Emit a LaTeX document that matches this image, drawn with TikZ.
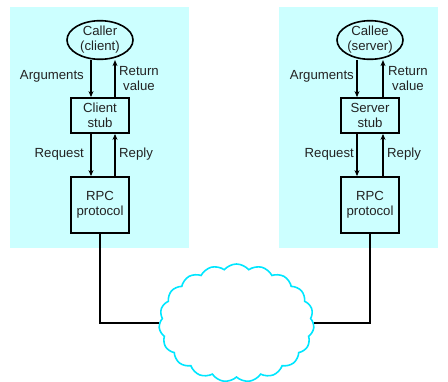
\documentclass[tikz,border=0pt]{standalone}
\usepackage{fontspec}
\setmainfont{Liberation Sans}
\usetikzlibrary{shapes.geometric,shapes.symbols,arrows.meta}
\definecolor{panelcyan}{RGB}{204,255,255}
\definecolor{netcyan}{RGB}{0,230,255}
\definecolor{inkgray}{RGB}{35,35,35}
\tikzset{
  panel/.style={fill=panelcyan, draw=none},
  procnode/.style={ellipse, draw=black, line width=1.6pt, minimum width=66pt, minimum height=35pt, inner sep=0pt, align=center},
  stubbox/.style={rectangle, draw=black, line width=1.8pt, minimum width=58pt, minimum height=35pt, inner sep=0pt, align=center},
  rpcbox/.style={rectangle, draw=black, line width=1.8pt, minimum width=58pt, minimum height=56pt, inner sep=0pt, align=center},
  flow/.style={draw=black, line width=1.6pt, -{Stealth[length=6pt,width=5pt]}},
  wire/.style={draw=black, line width=1.8pt},
  lbl/.style={text=inkgray, inner sep=0pt, align=center},
  net/.style={cloud, cloud puffs=19, cloud puff arc=100, cloud ignores aspect, draw=netcyan, line width=1.6pt, minimum width=155pt, minimum height=118pt, inner sep=0pt}
}
\begin{document}
\begin{tikzpicture}[x=1pt, y=-1pt, font=\fontsize{13.2}{15}\selectfont, text=inkgray]
\useasboundingbox (0,0) rectangle (448,381);

% machine backgrounds
\fill[panel] (10,7) rectangle (189,248);
\fill[panel] (279,7) rectangle (438,248);

% client side
\node[procnode] (caller) at (100,40) {Caller\\(client)};
\node[stubbox] (cstub) at (100,115.5) {Client\\stub};
\node[rpcbox] (crpc) at (100,205) {RPC\\protocol};

\draw[flow] ([xshift=-9pt]caller.south) -- ([xshift=-9pt]cstub.north);
\draw[flow] ([xshift=15pt]cstub.north) -- ([xshift=15pt]caller.south);
\draw[flow] ([xshift=-9pt]cstub.south) -- ([xshift=-9pt]crpc.north);
\draw[flow] ([xshift=15pt]crpc.north) -- ([xshift=15pt]cstub.south);

\node[lbl, anchor=east] (cargs) at (84,76) {Arguments};
\node[lbl] (cret) at (139,78.5) {Return\\value};
\node[lbl, anchor=east] (creq) at (84,154) {Request};
\node[lbl, anchor=west] (crep) at (119,154) {Reply};

% server side
\node[procnode] (callee) at (370,40) {Callee\\(server)};
\node[stubbox] (sstub) at (370,115.5) {Server\\stub};
\node[rpcbox] (srpc) at (370,205) {RPC\\protocol};

\draw[flow] ([xshift=-13pt]callee.south) -- ([xshift=-13pt]sstub.north);
\draw[flow] ([xshift=13pt]sstub.north) -- ([xshift=13pt]callee.south);
\draw[flow] ([xshift=-13pt]sstub.south) -- ([xshift=-13pt]srpc.north);
\draw[flow] ([xshift=13pt]srpc.north) -- ([xshift=13pt]sstub.south);

\node[lbl, anchor=east] (sargs) at (354,76) {Arguments};
\node[lbl] (sret) at (408,78.5) {Return\\value};
\node[lbl, anchor=east] (sreq) at (354,154) {Request};
\node[lbl, anchor=west] (srep) at (387,154) {Reply};

% network
\node[net] (network) at (236.5,323) {};
\draw[wire] (crpc.south) |- (network.west);
\draw[wire] (srpc.south) |- (network.east);
\end{tikzpicture}
\end{document}
